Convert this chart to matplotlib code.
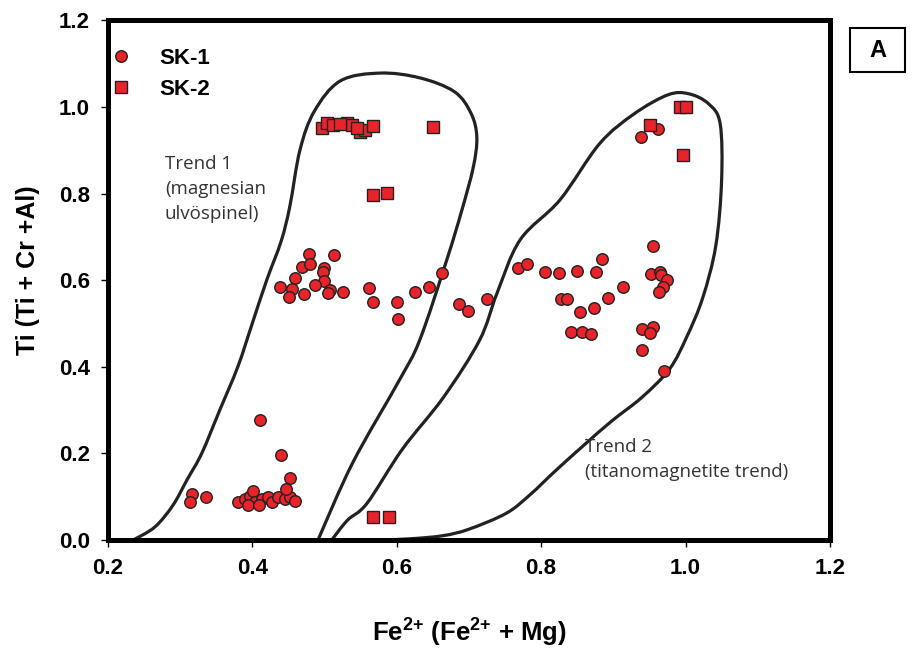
import numpy as np
import matplotlib.pyplot as plt
from matplotlib.path import Path
from matplotlib.patches import PathPatch, Rectangle

plt.rcParams['font.family'] = ['Liberation Sans', 'DejaVu Sans']
plt.rcParams['mathtext.fontset'] = 'custom'
plt.rcParams['mathtext.bf'] = 'Liberation Sans:bold'
plt.rcParams['mathtext.rm'] = 'Liberation Sans'

# SK-1 (circles)
sk1_x = [0.438, 0.478, 0.513, 0.469, 0.480, 0.499, 0.498, 0.459, 0.499, 0.455,
         0.451, 0.471, 0.487, 0.507, 0.505, 0.525, 0.561, 0.567, 0.600, 0.602,
         0.625, 0.645, 0.663, 0.686, 0.699, 0.725, 0.768, 0.780, 0.805, 0.825,
         0.850, 0.876, 0.884, 0.955, 0.952, 0.965, 0.966, 0.974, 0.969, 0.963,
         0.913, 0.827, 0.836, 0.893, 0.873, 0.854, 0.841, 0.857, 0.869, 0.940,
         0.955, 0.951, 0.940, 0.970, 0.938, 0.962,
         0.316, 0.314, 0.336, 0.380, 0.390, 0.397, 0.401, 0.404, 0.413, 0.422,
         0.427, 0.435, 0.445, 0.452, 0.459, 0.394, 0.410, 0.411, 0.440, 0.452,
         0.447]
sk1_y = [0.584, 0.661, 0.658, 0.630, 0.637, 0.628, 0.619, 0.605, 0.598, 0.580,
         0.561, 0.568, 0.589, 0.577, 0.570, 0.573, 0.582, 0.550, 0.550, 0.510,
         0.573, 0.584, 0.617, 0.545, 0.529, 0.557, 0.628, 0.637, 0.619, 0.617,
         0.621, 0.619, 0.649, 0.679, 0.614, 0.619, 0.612, 0.600, 0.584, 0.573,
         0.584, 0.557, 0.557, 0.559, 0.536, 0.527, 0.480, 0.480, 0.476, 0.487,
         0.492, 0.478, 0.439, 0.390, 0.930, 0.949,
         0.106, 0.088, 0.099, 0.088, 0.095, 0.102, 0.113, 0.088, 0.095, 0.099,
         0.088, 0.099, 0.095, 0.099, 0.090, 0.081, 0.081, 0.277, 0.196, 0.143,
         0.118]

# SK-2 (squares)
sk2_x = [0.496, 0.503, 0.512, 0.531, 0.538, 0.549, 0.556, 0.567, 0.522, 0.545,
         0.650, 0.567, 0.586, 0.567, 0.589, 0.993, 1.000, 0.951, 0.996]
sk2_y = [0.951, 0.963, 0.958, 0.963, 0.958, 0.942, 0.947, 0.956, 0.960, 0.952,
         0.954, 0.797, 0.801, 0.053, 0.053, 1.000, 1.000, 0.958, 0.889]

# envelope outlines
trend1_x = [0.235, 0.265, 0.290, 0.310, 0.330, 0.355, 0.380, 0.400, 0.420, 0.440,
            0.452, 0.466, 0.486, 0.522, 0.577, 0.632, 0.680, 0.703, 0.711, 0.706,
            0.690, 0.670, 0.632, 0.604, 0.539, 0.491]
trend1_y = [0.000, 0.030, 0.080, 0.140, 0.200, 0.300, 0.400, 0.500, 0.600, 0.690,
            0.770, 0.900, 0.990, 1.060, 1.078, 1.067, 1.035, 0.985, 0.930, 0.860,
            0.760, 0.650, 0.462, 0.370, 0.178, 0.000]

trend2_x = [0.510, 0.532, 0.559, 0.608, 0.665, 0.715, 0.739, 0.771, 0.826,
            0.881, 0.929, 0.976, 1.005, 1.032, 1.048, 1.050, 1.042, 1.024,
            1.002, 0.978, 0.940, 0.898, 0.860, 0.820, 0.785, 0.752, 0.700,
            0.664, 0.620, 0.580]
trend2_y = [0.000, 0.046, 0.085, 0.210, 0.330, 0.462, 0.570, 0.693, 0.785,
            0.915, 0.984, 1.028, 1.030, 1.007, 0.961, 0.830, 0.680, 0.560,
            0.470, 0.395, 0.330, 0.275, 0.220, 0.160, 0.105, 0.062, 0.025,
            0.010, 0.003, 0.000]


def smooth_path(xs, ys):
    p = np.column_stack([xs, ys])
    p = np.vstack([p[0], p, p[-1]])
    verts = [p[1]]
    codes = [Path.MOVETO]
    for i in range(1, len(p) - 2):
        c1 = p[i] + (p[i + 1] - p[i - 1]) / 6
        c2 = p[i + 1] - (p[i + 2] - p[i]) / 6
        verts += [c1, c2, p[i + 1]]
        codes += [Path.CURVE4] * 3
    return Path(verts, codes)


fig = plt.figure(figsize=(9.14, 6.53), dpi=100)
ax = fig.add_axes([0.118, 0.173, 0.790, 0.796])

for xs, ys in [(trend1_x, trend1_y), (trend2_x, trend2_y)]:
    ax.add_patch(PathPatch(smooth_path(xs, ys), facecolor='none',
                           edgecolor='#222222', lw=2.3, zorder=2))

ax.plot(sk1_x, sk1_y, 'o', color='#e8242a', mec='#222222', mew=1.0, ms=8.3,
        label='SK-1', zorder=3)
ax.plot(sk2_x, sk2_y, 's', color='#e8242a', mec='#222222', mew=1.0, ms=8.5,
        label='SK-2', zorder=3)

ax.set_xlim(0.2, 1.2)
ax.set_ylim(0, 1.2)
ax.set_xticks(np.arange(0.2, 1.21, 0.2))
ax.set_yticks(np.arange(0, 1.21, 0.2))
ax.set_xticklabels(['%.1f' % v for v in np.arange(0.2, 1.21, 0.2)])
ax.set_yticklabels(['%.1f' % v for v in np.arange(0, 1.21, 0.2)])
ax.tick_params(direction='out', length=5, width=1, labelsize=16, pad=8)
for lab in ax.get_xticklabels() + ax.get_yticklabels():
    lab.set_fontweight('bold')
for s in ax.spines.values():
    s.set_linewidth(3.6)
    s.set_color('black')

ax.set_xlabel(r'Fe$^{\mathbf{2{+}}}$ (Fe$^{\mathbf{2{+}}}$ + Mg)', fontsize=18.5,
              fontweight='bold', labelpad=26)
ax.set_ylabel('Ti (Ti + Cr +Al)', fontsize=18, fontweight='bold')
ax.yaxis.set_label_coords(-0.094, 0.52)

ax.legend(loc='upper left', bbox_to_anchor=(-0.04, 0.985), frameon=False,
          handletextpad=0.7, labelspacing=0.45,
          prop={'weight': 'bold', 'size': 16})

ax.text(0.279, 0.89, 'Trend 1\n(magnesian\nulvöspinel)', fontsize=13.5,
        color='#333333', family=['Open Sans', 'DejaVu Sans'], va='top',
        linespacing=1.5)
ax.text(0.861, 0.235, 'Trend 2\n(titanomagnetite trend)', fontsize=13.5,
        color='#333333', family=['Open Sans', 'DejaVu Sans'], va='top',
        linespacing=1.5)

fig.patches.append(Rectangle((0.930, 0.890), 0.060, 0.067, transform=fig.transFigure,
                             fc='white', ec='black', lw=1.5))
fig.text(0.960, 0.923, 'A', fontsize=17, fontweight='bold', ha='center', va='center')

fig.savefig('out.png', dpi=100)
